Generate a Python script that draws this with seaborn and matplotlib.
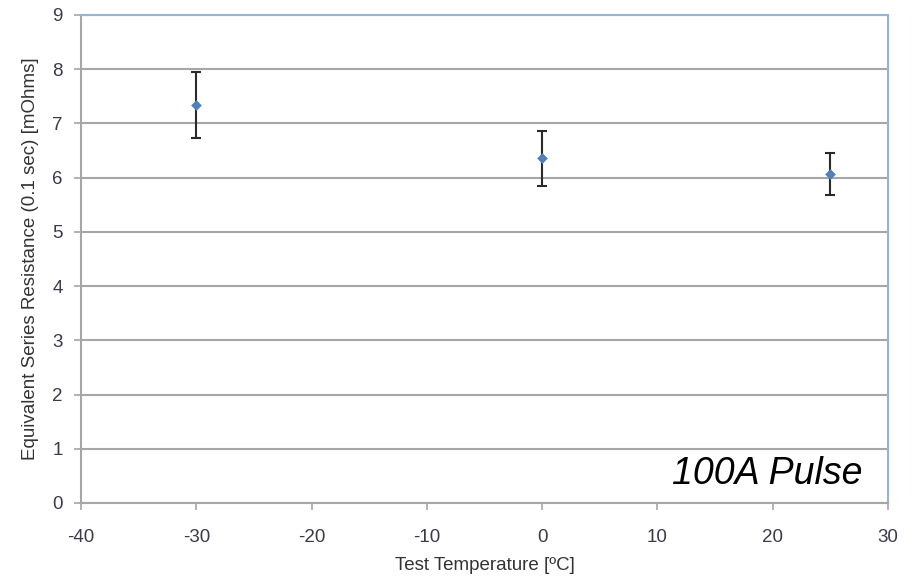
import matplotlib
matplotlib.use("Agg")
import matplotlib.pyplot as plt
import seaborn as sns
import numpy as np
import pandas as pd

temps = [-30, 0, 25]
esr_mean = [7.34, 6.36, 6.07]
esr_high = [7.95, 6.86, 6.46]
esr_low = [6.73, 5.85, 5.68]
x_ticks = [-40, -30, -20, -10, 0, 10, 20, 30]
y_ticks = [0, 1, 2, 3, 4, 5, 6, 7, 8, 9]

sns.set_style("white")
plt.rcParams['font.family'] = ['Liberation Sans', 'DejaVu Sans']
plt.rcParams['axes.unicode_minus'] = False

df = pd.DataFrame({"temp": temps, "esr": esr_mean})

fig = plt.figure(figsize=(9.14, 5.85), dpi=100)
ax = fig.add_axes([0.0886, 0.1402, 0.8830, 0.8342])

lower = np.array(esr_mean) - np.array(esr_low)
upper = np.array(esr_high) - np.array(esr_mean)
ax.errorbar(temps, esr_mean, yerr=[lower, upper], fmt='none', ecolor='#2a2a2a',
            elinewidth=1.5, capsize=3.5, capthick=1.5, zorder=3)
sns.scatterplot(data=df, x="temp", y="esr", marker="D", s=30, color="#4F81BD",
                edgecolor="#4F81BD", linewidth=0, ax=ax, zorder=4)

ax.set_xlim(-40, 30)
ax.set_ylim(0, 9)
ax.set_xticks(x_ticks)
ax.set_yticks(y_ticks)
ax.yaxis.grid(True, color='#a6a6a6', linewidth=1.5)
ax.xaxis.grid(False)
ax.set_axisbelow(True)

for s in ['left', 'bottom']:
    ax.spines[s].set_color('#a6a6a6')
    ax.spines[s].set_linewidth(1.5)
for s in ['top', 'right']:
    ax.spines[s].set_color('#95b3d7')
    ax.spines[s].set_linewidth(1.5)

ax.tick_params(axis='both', which='both', direction='out', length=5, width=1.2,
               color='#a6a6a6', labelsize=13.5, labelcolor='#3a3a4a',
               left=True, bottom=True)
ax.tick_params(axis='x', pad=14)
ax.tick_params(axis='y', pad=8)

ax.set_xlabel("Test Temperature [ºC]", fontsize=13.5, color='#333333', labelpad=8)
ax.set_ylabel("Equivalent Series Resistance (0.1 sec) [mOhms]", fontsize=13.5, color='#333333', labelpad=10)

ax.text(0.968, 0.022, "100A Pulse", transform=ax.transAxes, ha='right', va='bottom',
        fontsize=27, style='italic', color='black')

fig.savefig("out.png", dpi=100)
